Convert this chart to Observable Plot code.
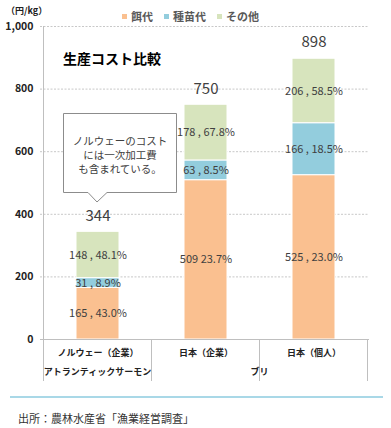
<!DOCTYPE html>
<html><head><meta charset="utf-8">
<script src="https://cdn.jsdelivr.net/npm/d3@7"></script>
<script src="https://cdn.jsdelivr.net/npm/@observablehq/plot@0.6"></script>
<style>
body{margin:0;background:#fff;font-family:"Noto Sans CJK JP","Noto Sans",sans-serif;}
#wrap{position:relative;width:391px;height:428px;overflow:hidden;background:#fff;}
#chart{position:absolute;left:0;top:0;}
.abs{position:absolute;white-space:nowrap;}
#legend{position:absolute;left:122px;top:8px;display:flex;align-items:center;gap:11px;font-size:11px;font-weight:bold;color:#595959;}
#legend span.item{display:flex;align-items:center;gap:4px;}
#legend i{display:inline-block;width:5px;height:5px;}
#callout-text{position:absolute;left:63px;top:134px;width:114px;text-align:center;font-size:10.5px;line-height:14px;color:#404040;}
</style></head><body>
<div id="wrap">
  <div id="chart"></div>
  <div class="abs" style="left:6px;top:4px;font-size:9px;font-weight:bold;color:#222;">（円/kg）</div>
  <div id="legend"></div>
  <div class="abs" style="left:63px;top:48px;font-size:14px;font-weight:bold;color:#000;">生産コスト比較</div>
  <svg class="abs" style="left:0;top:0;" width="391" height="428">
    <path d="M63.5,113.5 H176.5 V192.5 H107 L97,202 L88,192.5 H63.5 Z" fill="#fff" stroke="#8c8c8c" stroke-width="1"/>
  </svg>
  <div id="callout-text">ノルウェーのコスト<br>には一次加工費<br>も含まれている。</div>
  <div class="abs" style="left:10px;top:396px;width:373px;height:2px;background:#a9d8e7;"></div>
  <div class="abs" style="left:18px;top:410px;font-size:11px;color:#333;">出所：農林水産省「漁業経営調査」</div>
</div>
<script>
// ---- data ----
const categories = ["ノルウェー（企業）", "日本（企業）", "日本（個人）"];
const speciesNames = ["アトランティックサーモン", "ブリ"];
const speciesSpan = [1, 2];
const seriesNames = ["餌代", "種苗代", "その他"];
const feedCost = [165, 509, 525];
const seedCost = [31, 63, 166];
const otherCost = [148, 178, 206];
const feedLabels = ["165 , 43.0%", "509 23.7%", "525 , 23.0%"];
const seedLabels = ["31 , 8.9%", "63 , 8.5%", "166 , 18.5%"];
const otherLabels = ["148 , 48.1%", "178 , 67.8%", "206 , 58.5%"];
const totals = [344, 750, 898];
const yTicks = [0, 200, 400, 600, 800, 1000];
const seriesColors = ["#FAC090", "#93CDDD", "#D7E4BD"];

// ---- build table ----
const seriesValues = [feedCost, seedCost, otherCost];
const seriesLabels = [feedLabels, seedLabels, otherLabels];
const rows = [];
seriesNames.forEach((s, j) => categories.forEach((c, i) =>
  rows.push({cat: c, series: s, value: seriesValues[j][i], label: seriesLabels[j][i]})));
const totalRows = categories.map((c, i) => ({cat: c, total: totals[i]}));

// legend
const legend = document.getElementById("legend");
seriesNames.forEach((s, j) => {
  const it = document.createElement("span"); it.className = "item";
  it.innerHTML = `<i style="background:${seriesColors[j]}"></i>${s}`;
  legend.appendChild(it);
});

const font = '"Noto Sans CJK JP","Noto Sans",sans-serif';
const chart = Plot.plot({
  width: 391, height: 385,
  marginTop: 26, marginBottom: 46, marginLeft: 43, marginRight: 22,
  style: {fontFamily: font, background: "transparent", overflow: "visible"},
  x: {domain: categories, paddingInner: 0.6, paddingOuter: 0.3, label: null},
  y: {domain: [0, 1000], label: null},
  color: {domain: seriesNames, range: seriesColors},
  marks: [
    Plot.gridY(yTicks.slice(1), {stroke: "#c8c8c8", strokeOpacity: 1, strokeDasharray: "2,1.5", insetLeft: -3}),
    Plot.barY(rows, {x: "cat", y: "value", fill: "series", stroke: "white", strokeWidth: 1}),
    Plot.text(rows, Plot.stackY({x: "cat", y: "value", text: "label", fill: "#404040", fontSize: 11})),
    Plot.text(totalRows, {x: "cat", y: "total", text: d => String(d.total), dy: -16, fontSize: 15, fill: "#404040"}),
    Plot.ruleY([0], {stroke: "#bfbfbf", insetLeft: -3}),
    Plot.axisY(yTicks, {tickFormat: d3.format(","), tickSize: 0, tickPadding: 10, fontWeight: "bold", fontSize: 10.5, fill: "#222", label: null}),
    Plot.axisX({tickSize: 0, tickPadding: 10, fontWeight: "bold", fontSize: 9, fill: "#222", label: null})
  ]
});
document.getElementById("chart").appendChild(chart);

// category frame lines and second-row labels, from the band scale
const xs = chart.scale("x"), ys = chart.scale("y");
const off = (xs.step - xs.bandwidth) / 2;
const edges = categories.map(c => xs.apply(c) - off);
edges.push(edges[edges.length - 1] + xs.step);
const svg = d3.select(chart);
const g = svg.append("g").attr("stroke", "#bfbfbf").attr("stroke-width", 1);
const yBottom = 381;
edges.forEach((e, i) => {
  g.append("line").attr("x1", e).attr("x2", e)
    .attr("y1", i === 0 ? ys.apply(1000) : ys.apply(0)).attr("y2", yBottom);
});
let start = 0;
speciesNames.forEach((name, k) => {
  const x0 = edges[start], x1 = edges[start + speciesSpan[k]];
  svg.append("text").attr("x", (x0 + x1) / 2).attr("y", 373)
    .attr("text-anchor", "middle").attr("dominant-baseline", "middle")
    .attr("font-size", 9).attr("font-weight", "bold").attr("fill", "#222")
    .attr("font-family", font).text(name);
  start += speciesSpan[k];
});
</script>
</body></html>
